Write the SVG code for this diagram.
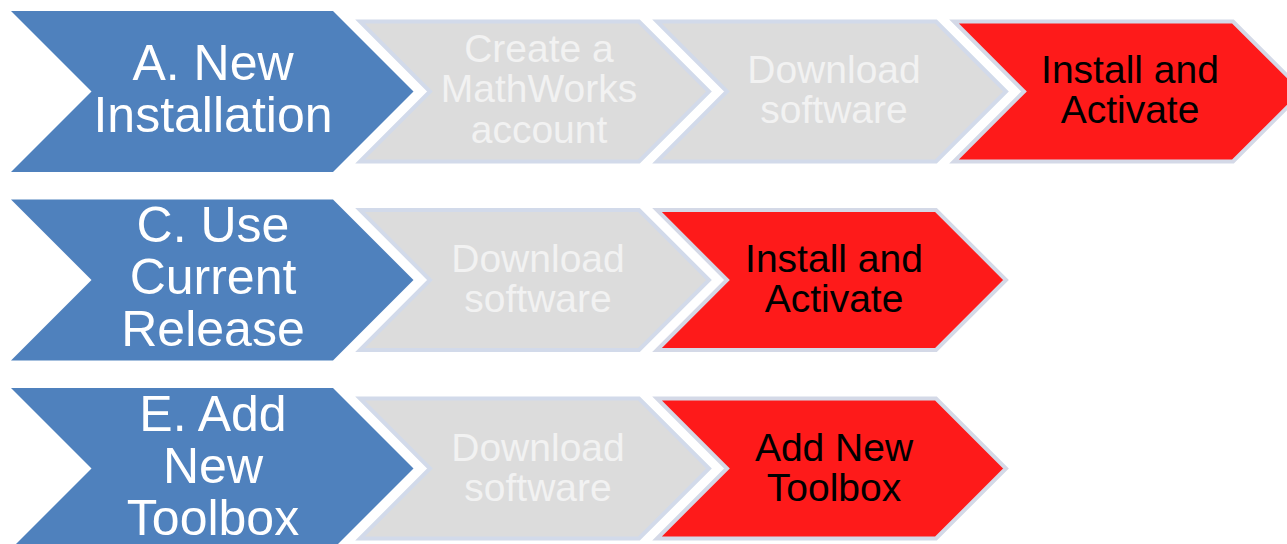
<svg xmlns="http://www.w3.org/2000/svg" width="1287" height="544" viewBox="0 0 1287 544">
<style>
.blue{fill:#4F81BD;stroke:none}
.gray{fill:#DCDCDC;stroke:#D2DAEA;stroke-width:4;stroke-linejoin:miter}
.red{fill:#FE1A1A;stroke:#D4D9E7;stroke-width:4;stroke-linejoin:miter}
.tb{font-family:"Liberation Sans",Arial,sans-serif;font-size:50px;fill:#FFFFFF;text-anchor:middle}
.tg{font-family:"Liberation Sans",Arial,sans-serif;font-size:39px;fill:#F2F2F2;text-anchor:middle}
.tr{font-family:"Liberation Sans",Arial,sans-serif;font-size:39px;fill:#000000;text-anchor:middle}
</style>
<rect width="1287" height="544" fill="#FFFFFF"/>
<g id="connectors"></g>

<g id="a-new-installation">
<polygon class="blue" points="11,11 333,11 413.5,91.5 333,172 11,172 91.5,91.5"/>
<text class="tb" x="213" y="80">A. New</text>
<text class="tb" x="213" y="132">Installation</text>
</g>
<g id="a-create-account">
<polygon class="gray" points="360,21.5 639,21.5 709,91.5 639,161.5 360,161.5 430,91.5"/>
<text class="tg" x="539" y="62">Create a</text>
<text class="tg" x="539" y="102">MathWorks</text>
<text class="tg" x="539" y="143">account</text>
</g>
<g id="a-download">
<polygon class="gray" points="657,21.5 936,21.5 1006,91.5 936,161.5 657,161.5 727,91.5"/>
<text class="tg" x="834" y="83">Download</text>
<text class="tg" x="834" y="123">software</text>
</g>
<g id="a-install">
<polygon class="red" points="954,21.5 1233,21.5 1303,91.5 1233,161.5 954,161.5 1024,91.5"/>
<text class="tr" x="1130" y="83">Install and</text>
<text class="tr" x="1130" y="123">Activate</text>
</g>

<g id="c-use-current-release">
<polygon class="blue" points="11,199.5 333,199.5 413.5,280 333,360.5 11,360.5 91.5,280"/>
<text class="tb" x="213" y="242">C. Use</text>
<text class="tb" x="213" y="294">Current</text>
<text class="tb" x="213" y="346">Release</text>
</g>
<g id="c-download">
<polygon class="gray" points="360,210 639,210 709,280 639,350 360,350 430,280"/>
<text class="tg" x="538" y="272">Download</text>
<text class="tg" x="538" y="312">software</text>
</g>
<g id="c-install">
<polygon class="red" points="657,210 936,210 1006,280 936,350 657,350 727,280"/>
<text class="tr" x="834" y="272">Install and</text>
<text class="tr" x="834" y="312">Activate</text>
</g>

<g id="e-add-new-toolbox">
<polygon class="blue" points="11,388 333,388 413.5,468.5 333,549 11,549 91.5,468.5"/>
<text class="tb" x="213" y="431">E. Add</text>
<text class="tb" x="213" y="483">New</text>
<text class="tb" x="213" y="535">Toolbox</text>
</g>
<g id="e-download">
<polygon class="gray" points="360,398.5 639,398.5 709,468.5 639,538.5 360,538.5 430,468.5"/>
<text class="tg" x="538" y="461">Download</text>
<text class="tg" x="538" y="501">software</text>
</g>
<g id="e-add-toolbox">
<polygon class="red" points="657,398.5 936,398.5 1006,468.5 936,538.5 657,538.5 727,468.5"/>
<text class="tr" x="834" y="461">Add New</text>
<text class="tr" x="834" y="501">Toolbox</text>
</g>
</svg>
